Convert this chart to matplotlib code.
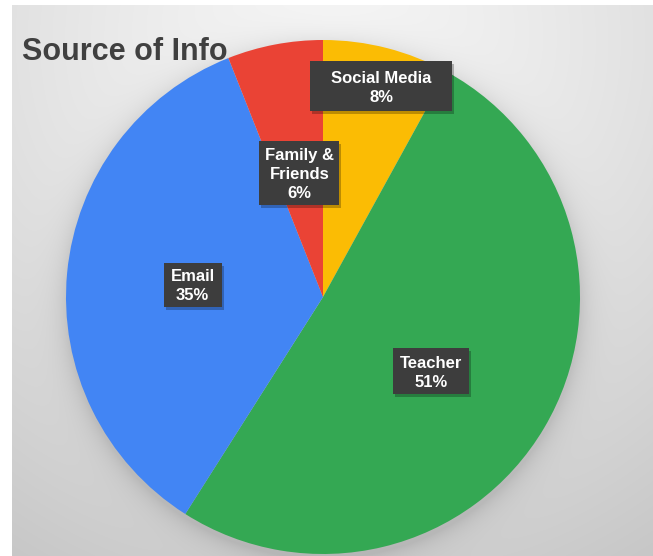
import numpy as np
import matplotlib
matplotlib.use("Agg")
import matplotlib.pyplot as plt
from matplotlib.patches import Rectangle

plt.rcParams["font.family"] = ["Liberation Sans", "DejaVu Sans"]

# data
sources = ["Social Media", "Teacher", "Email", "Family &\nFriends"]
shares = [8, 51, 35, 6]
colors = ["#FBBC04", "#34A853", "#4285F4", "#EA4335"]

W, H = 653, 556
CX, CY, R = 323, 297, 257  # pie centre / radius in pixels (top-down)

fig = plt.figure(figsize=(W / 100, H / 100), dpi=100)

# background: soft radial gradient with a shadow round the pie
yy, xx = np.mgrid[0:H, 0:W].astype(float)
d = np.hypot(xx - 330, yy - 40)
bg = 0.965 - 0.19 * np.clip(d / 620, 0, 1) ** 1.3
dp = np.hypot(xx - CX, yy - (CY + 4))
shade = np.where(dp > R, np.exp(-(dp - R) / 12.0), 1.0) * 0.10
bg = bg - shade
bg[:, :12] = 1.0
bg[:5, :] = 1.0
bgax = fig.add_axes([0, 0, 1, 1])
bgax.imshow(np.dstack([bg] * 3), extent=(0, W, H, 0), interpolation="bilinear")
bgax.set_axis_off()

ax = fig.add_axes([(CX - R) / W, (H - CY - R) / H, 2 * R / W, 2 * R / H])
wedges, _ = ax.pie(shares, colors=colors, startangle=90, counterclock=False,
                   radius=1, wedgeprops={"linewidth": 0})
ax.set_xlim(-1, 1)
ax.set_ylim(-1, 1)
ax.set_axis_off()

# label callouts (distance from centre, angle tweak, box size in px)
label_dist = [0.85, 0.51, 0.51, 0.49]
label_turn = [-1, -4, 0, 0]
box_w = [142, 76, 58, 80]
box_h = [50, 46, 44, 64]
for w, name, val, dist, turn, bw, bh in zip(wedges, sources, shares, label_dist,
                                           label_turn, box_w, box_h):
    ang = np.deg2rad((w.theta1 + w.theta2) / 2 + turn)
    x, y = dist * np.cos(ang), dist * np.sin(ang)
    bwd, bhd = bw / R, bh / R
    ax.add_patch(Rectangle((x - bwd / 2 + 2 / R, y - bhd / 2 - 3 / R), bwd, bhd,
                           facecolor="black", alpha=0.25, linewidth=0, zorder=3))
    ax.add_patch(Rectangle((x - bwd / 2, y - bhd / 2), bwd, bhd,
                           facecolor="#3d3d3d", linewidth=0, zorder=4))
    ax.text(x, y - 1.5 / R, f"{name}\n{val}%", ha="center", va="center", color="white",
            fontsize=12, fontweight="bold", linespacing=1.33, zorder=5)

fig.text(22 / W, 1 - 60 / H, "Source of Info", ha="left", va="baseline",
         fontsize=22, fontweight="bold", color="#404040")

fig.savefig("out.png", dpi=100)
